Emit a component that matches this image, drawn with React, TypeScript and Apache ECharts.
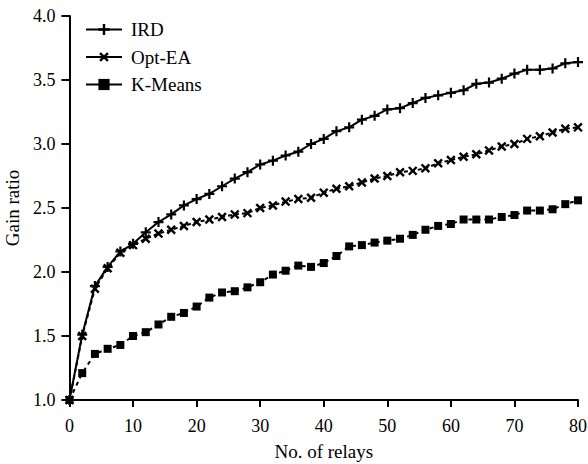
import React, { useEffect, useRef } from "react";
import * as echarts from "echarts";

const relays = [0, 2, 4, 6, 8, 10, 12, 14, 16, 18, 20, 22, 24, 26, 28, 30, 32, 34, 36, 38, 40, 42, 44, 46, 48, 50, 52, 54, 56, 58, 60, 62, 64, 66, 68, 70, 72, 74, 76, 78, 80];

const ird = [1.0, 1.51, 1.89, 2.04, 2.16, 2.22, 2.31, 2.39, 2.45, 2.52, 2.57, 2.61, 2.67, 2.73, 2.78, 2.84, 2.87, 2.91, 2.94, 3.0, 3.04, 3.1, 3.13, 3.19, 3.22, 3.27, 3.28, 3.32, 3.36, 3.38, 3.4, 3.42, 3.47, 3.48, 3.51, 3.55, 3.58, 3.58, 3.59, 3.63, 3.64];

const optEA = [1.0, 1.5, 1.87, 2.03, 2.15, 2.21, 2.26, 2.3, 2.33, 2.36, 2.39, 2.41, 2.43, 2.45, 2.46, 2.5, 2.52, 2.55, 2.57, 2.58, 2.62, 2.65, 2.67, 2.7, 2.73, 2.75, 2.78, 2.79, 2.81, 2.85, 2.875, 2.9, 2.92, 2.95, 2.98, 3.0, 3.04, 3.06, 3.09, 3.12, 3.13];

const kMeans = [1.0, 1.21, 1.36, 1.4, 1.43, 1.5, 1.53, 1.59, 1.65, 1.68, 1.73, 1.8, 1.84, 1.85, 1.88, 1.92, 1.98, 2.01, 2.05, 2.04, 2.07, 2.125, 2.2, 2.21, 2.23, 2.245, 2.26, 2.29, 2.33, 2.36, 2.375, 2.41, 2.41, 2.41, 2.43, 2.445, 2.48, 2.48, 2.49, 2.53, 2.56];

const seriesNames = ["IRD", "Opt-EA", "K-Means"];

const FONT = "'Liberation Serif', 'Times New Roman', serif";
const PLUS = "path://M3.9,0H6.1V10H3.9ZM0,3.9H10V6.1H0Z";

function pairs(ys: number[]) {
  return relays.map((x, i) => [x, ys[i]]);
}

export default function App() {
  const ref = useRef<HTMLDivElement>(null);
  useEffect(() => {
    if (!ref.current) return;
    const chart = echarts.init(ref.current, null, { renderer: "svg" });
    chart.setOption({
      animation: false,
      backgroundColor: "#fff",
      textStyle: { fontFamily: FONT, color: "#000" },
      grid: {
        left: 69.5,
        right: 10,
        top: 16,
        bottom: 64,
        containLabel: false,
        outerBoundsMode: "none",
      },
      legend: {
        orient: "vertical",
        left: 80,
        top: 15,
        itemWidth: 36,
        itemHeight: 14,
        itemGap: 8.5,
        data: seriesNames,
        textStyle: { fontFamily: FONT, fontSize: 19, color: "#000", padding: [0, 0, 0, 4] },
        lineStyle: { type: "solid", width: 2, color: "#000" },
      },
      xAxis: {
        type: "value",
        min: 0,
        max: 80,
        interval: 10,
        name: "No. of relays",
        nameLocation: "middle",
        nameGap: 42,
        nameTextStyle: { fontFamily: FONT, fontSize: 19, color: "#000" },
        axisLine: { lineStyle: { color: "#000", width: 2 } },
        axisTick: { inside: false, length: 7, lineStyle: { color: "#000", width: 2 } },
        axisLabel: { fontFamily: FONT, fontSize: 18, color: "#000", margin: 17 },
        splitLine: { show: false },
      },
      yAxis: {
        type: "value",
        min: 1,
        max: 4,
        interval: 0.5,
        name: "Gain ratio",
        nameLocation: "middle",
        nameGap: 44,
        nameTextStyle: { fontFamily: FONT, fontSize: 19, color: "#000" },
        axisLine: { show: true, lineStyle: { color: "#000", width: 2 } },
        axisTick: { show: true, inside: false, length: 8, lineStyle: { color: "#000", width: 2 } },
        axisLabel: {
          fontFamily: FONT,
          fontSize: 18,
          color: "#000",
          margin: 14,
          formatter: (v: number) => v.toFixed(1),
        },
        splitLine: { show: false },
      },
      series: [
        {
          name: seriesNames[0],
          type: "line",
          data: pairs(ird),
          symbol: PLUS,
          symbolSize: 10,
          clip: false,
          lineStyle: { color: "#000", width: 2, type: "solid" },
          itemStyle: { color: "#000" },
        },
        {
          name: seriesNames[1],
          type: "line",
          data: pairs(optEA),
          symbol: PLUS,
          symbolSize: 11,
          symbolRotate: 45,
          clip: false,
          lineStyle: { color: "#000", width: 2, type: [4, 3] },
          itemStyle: { color: "#000" },
        },
        {
          name: seriesNames[2],
          type: "line",
          data: pairs(kMeans),
          symbol: "rect",
          symbolSize: 8,
          clip: false,
          lineStyle: { color: "#000", width: 2, type: [4, 4] },
          itemStyle: { color: "#000" },
        },
      ],
    });
    return () => chart.dispose();
  }, []);
  return (
    <div
      ref={ref}
      style={{ position: "fixed", left: 0, top: 0, width: 588, height: 464, background: "#fff" }}
    />
  );
}
